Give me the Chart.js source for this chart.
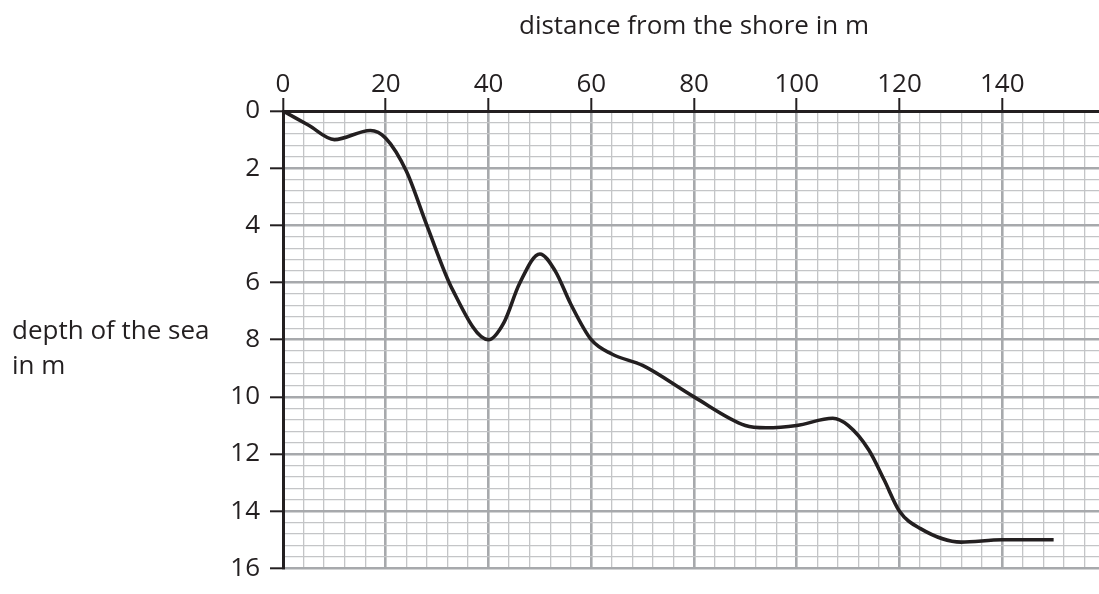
<!DOCTYPE html>
<html>
<head>
<meta charset="utf-8">
<title>Depth of the sea</title>
<script src="https://cdn.jsdelivr.net/npm/chart.js@4/dist/chart.umd.min.js"></script>
<style>
  html, body { margin: 0; padding: 0; background: #fff; overflow: hidden; }
  #wrap { position: absolute; left: 0; top: 0; width: 1106px; height: 594px; }
</style>
</head>
<body>
<div id="wrap"><canvas id="depthChart" width="1106" height="594"></canvas></div>
<script>
// ---- data ----
const distance = [0, 5, 10, 17, 20, 24, 28, 33, 40, 43, 46, 50, 53, 56, 60, 64, 70, 80, 90, 94, 100, 107, 110, 114, 117, 120, 124, 132, 140, 150];
const depth    = [0, 0.5, 1.0, 0.68, 0.95, 2.1, 4.0, 6.25, 8.0, 7.4, 6.05, 5.0, 5.6, 6.75, 8.0, 8.5, 8.9, 10.0, 11.0, 11.08, 11.0, 10.75, 11.0, 11.85, 12.9, 14.0, 14.6, 15.08, 15.0, 15.0];

const xTickLabels = [0, 20, 40, 60, 80, 100, 120, 140];
const yTickLabels = [0, 2, 4, 6, 8, 10, 12, 14, 16];

const xTitle = 'distance from the shore in m';
const yTitle = ['depth of the sea', 'in m'];

const INK = '#231f20';
const FONT = "'Open Sans', sans-serif";

const isLabelled = (list, v) => list.some(t => Math.abs(t - v) < 1e-6);

// axis titles drawn as plain text
const titlesPlugin = {
  id: 'titles',
  afterDraw(chart) {
    const c = chart.ctx;
    const area = chart.chartArea;
    c.save();
    c.fillStyle = INK;
    c.font = '26px ' + FONT;
    c.textBaseline = 'alphabetic';
    c.textAlign = 'center';
    c.fillText(xTitle, (area.left + area.right) / 2, 34);
    c.textAlign = 'left';
    yTitle.forEach((line, i) => c.fillText(line, 12, 339 + i * 35));
    c.restore();
  }
};

const gridFor = (list) => ({
  color: (ctx) => isLabelled(list, ctx.tick.value) ? '#a7a9ac' : '#c4c5c7',
  lineWidth: (ctx) => isLabelled(list, ctx.tick.value) ? 2.6 : 1.3,
  tickColor: (ctx) => isLabelled(list, ctx.tick.value) ? INK : 'rgba(0,0,0,0)',
  tickWidth: 2,
  tickLength: 13,
  drawTicks: true
});

new Chart(document.getElementById('depthChart'), {
  type: 'line',
  data: {
    datasets: [{
      data: distance.map((d, i) => ({ x: d, y: depth[i] })),
      borderColor: INK,
      borderWidth: 3.6,
      pointRadius: 0,
      cubicInterpolationMode: 'monotone',
      fill: false
    }]
  },
  plugins: [titlesPlugin],
  options: {
    responsive: false,
    animation: false,
    layout: { padding: { top: 0, left: 0, right: 1, bottom: 12 } },
    plugins: { legend: { display: false }, tooltip: { enabled: false } },
    scales: {
      x: {
        type: 'linear',
        position: 'top',
        min: 0,
        max: 160,
        afterFit: (s) => { s.height = 111; },
        grid: gridFor(xTickLabels),
        border: { display: true, color: INK, width: 3, z: 1 },
        ticks: {
          stepSize: 4,
          autoSkip: false,
          maxRotation: 0,
          padding: -2,
          color: INK,
          font: { family: FONT, size: 26 },
          callback: (v) => isLabelled(xTickLabels, v) ? String(Math.round(v)) : ''
        }
      },
      y: {
        type: 'linear',
        reverse: true,
        min: 0,
        max: 16,
        afterFit: (s) => { s.width = 283; },
        grid: gridFor(yTickLabels),
        border: { display: true, color: INK, width: 3, z: 1 },
        ticks: {
          stepSize: 0.4,
          autoSkip: false,
          padding: 10,
          color: INK,
          font: { family: FONT, size: 26 },
          callback: (v) => isLabelled(yTickLabels, v) ? String(Math.round(v)) : ''
        }
      }
    }
  }
});
</script>
</body>
</html>
